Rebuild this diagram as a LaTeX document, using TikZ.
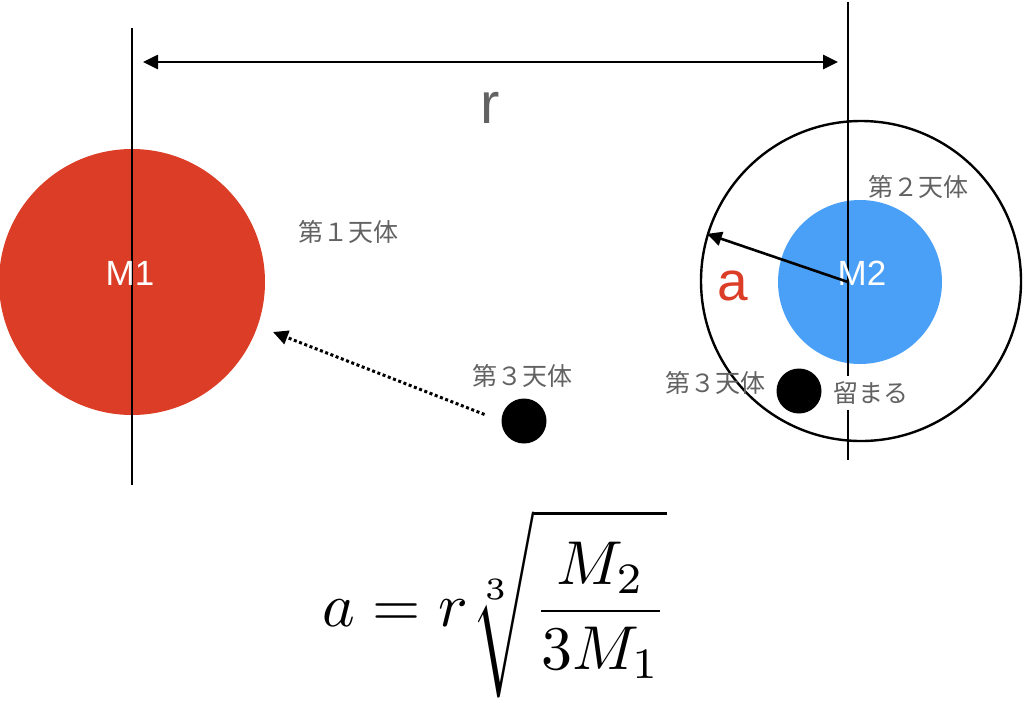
\documentclass[tikz,border=0pt]{standalone}
\usepackage{fontspec}
\setmainfont{Liberation Sans}
\newfontfamily\jpfont{Noto Sans CJK JP}
\usetikzlibrary{arrows.meta}
\definecolor{bodyred}{RGB}{219,61,38}
\definecolor{bodyblue}{RGB}{74,159,246}
\definecolor{labelgray}{RGB}{98,98,98}
\tikzset{
  body/.style={circle, inner sep=0pt},
  bodyname/.style={text=white, inner sep=0pt, font=\fontsize{35}{35}\selectfont},
  jplabel/.style={text=labelgray, inner sep=1pt, font=\jpfont\fontsize{25}{25}\selectfont},
  dot/.style={circle, fill=black, inner sep=0pt, minimum size=45pt},
  axis/.style={line width=2.6pt},
  tip/.style={-{Triangle[length=15pt,width=14pt]}},
}
\begin{document}
\begin{tikzpicture}[x=1pt,y=-1pt]
    \useasboundingbox (0,0) rectangle (1024,713);
    % the two bodies and the orbit round M2
    \node[body, fill=bodyred, minimum size=266pt] (m1) at (132,282) {};
    \node[body, fill=bodyblue, minimum size=164pt] (m2) at (860,282) {};
    \node[body, draw, line width=2.4pt, minimum size=320pt] (orbit) at (861,281) {};

    \coordinate (l1top) at (132,28);  \coordinate (l1bot) at (132,485);
    \coordinate (l2top) at (848,2);   \coordinate (l2bot) at (848,460);
    \coordinate (c2) at (848,282);
    \draw[axis] (l1top) -- (l1bot);
    \draw[axis] (l2top) -- (l2bot);

    \coordinate (rl) at (143,62);  \coordinate (rr) at (838,62);
    \draw[axis, {Triangle[length=15pt,width=14pt]}-{Triangle[length=15pt,width=14pt]}] (rl) -- (rr);
    \node[text=labelgray, inner sep=0pt, font=\fontsize{58}{58}\selectfont] (rname) at (490,108) {r};

    \node[bodyname] (m1name) at (130,273) {M1};
    \node[bodyname] (m2name) at (862,273) {M2};

    \draw[axis, tip] (c2) -- (orbit.163);
    \node[text=bodyred, inner sep=0pt, font=\fontsize{55}{55}\selectfont] (aname) at (733,286) {a};

    \node[jplabel] (first) at (348,232) {第１天体};
    \node[jplabel] (second) at (918,187) {第２天体};

    % third body, far and near
    \node[dot] (far) at (524,421) {};
    \node[jplabel] (farname) at (522,376) {第３天体};
    \node[dot] (near) at (799,391) {};
    \node[jplabel] (nearname) at (715,383) {第３天体};
    \node[jplabel, fill=white, inner sep=6pt] (stay) at (871,393) {留まる};

    \coordinate (aim) at (273,332);
    \draw[line width=3pt, dash pattern=on 3pt off 2.6pt, tip, shorten <=18pt] (far.west) -- (aim);

    \node[scale=6.2, inner sep=0pt] (formula) at (495,604) {$\displaystyle a = r\sqrt[3]{\rule[-10.5pt]{0pt}{26pt}\frac{M_2}{3M_1}}$};
\end{tikzpicture}
\end{document}
